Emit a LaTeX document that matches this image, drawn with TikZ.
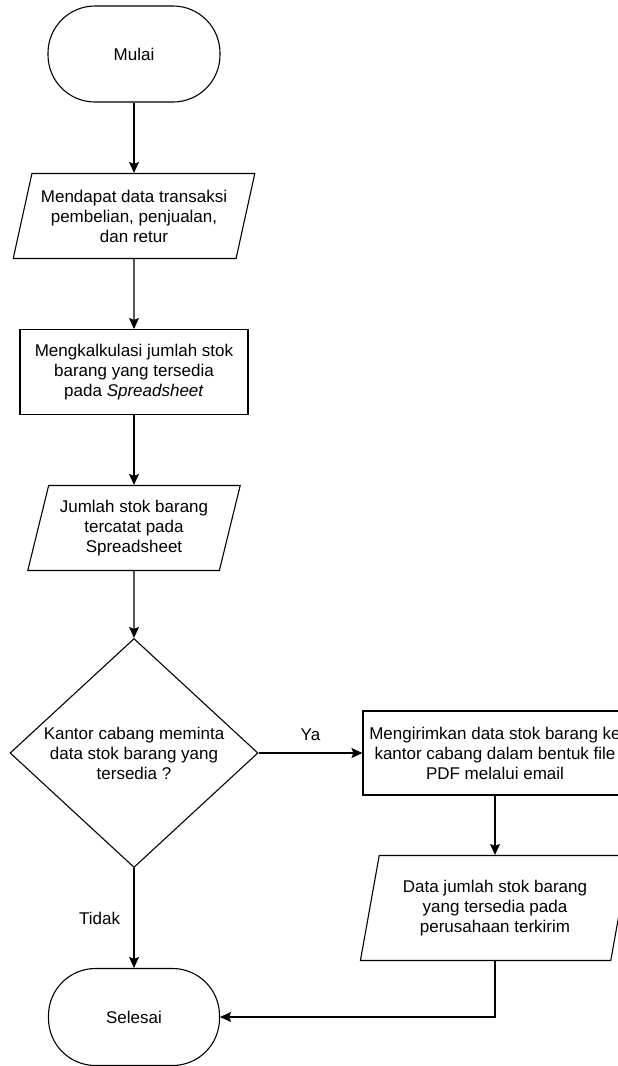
\documentclass[tikz,border=0pt]{standalone}
\usepackage{fontspec}
\setmainfont{Liberation Sans}
\usetikzlibrary{shapes.geometric,arrows.meta}

\begin{document}
\begin{tikzpicture}[x=1pt, y=-1pt, line width=1.1pt,
  font=\fontsize{17}{20}\selectfont,
  terminal/.style={draw, rectangle, rounded corners=47pt, minimum width=172pt, minimum height=96pt},
  data/.style={draw, trapezium, trapezium left angle=72, trapezium right angle=108,
    trapezium stretches=true, minimum height=85pt, inner sep=0pt, align=center},
  proses/.style={draw, rectangle, minimum height=85pt, inner sep=0pt, align=center},
  keputusan/.style={draw, diamond, aspect=1.08, minimum width=248pt, minimum height=229pt,
    inner sep=0pt, align=center},
  panah/.style={-{Stealth[length=11pt,width=10pt,inset=2pt]}}]
  % Frame of the page
  \useasboundingbox (0,0) rectangle (618,1066);
  \clip (0,0) rectangle (618,1066);

  % Main column
  \node[terminal] (mulai) at (134,54) {Mulai};
  \node[data, minimum width=242pt] (transaksi) at (134,216)
    {Mendapat data transaksi\\pembelian, penjualan,\\dan retur};
  \node[proses, minimum width=228pt] (hitung) at (134,372)
    {Mengkalkulasi jumlah stok\\barang yang tersedia\\pada \textit{Spreadsheet}};
  \node[data, minimum width=213pt] (tercatat) at (134,528)
    {Jumlah stok barang\\tercatat pada\\Spreadsheet};
  \node[keputusan] (diminta) at (134,753)
    {Kantor cabang meminta\\data stok barang yang\\tersedia ?};
  \node[terminal, minimum width=171pt, minimum height=97pt] (selesai) at (134,1017) {Selesai};

  % Right branch
  \node[proses, minimum width=264pt, minimum height=84pt] (kirim) at (495,753)
    {Mengirimkan data stok barang ke\\kantor cabang dalam bentuk file\\PDF melalui email};
  \node[data, minimum width=270pt, minimum height=105pt, trapezium left angle=75,
    trapezium right angle=105] (terkirim) at (495,908)
    {Data jumlah stok barang\\yang tersedia pada\\perusahaan terkirim};

  % Connectors
  \draw[panah] (mulai) -- (transaksi);
  \draw[panah] (transaksi) -- (hitung);
  \draw[panah] (hitung) -- (tercatat);
  \draw[panah] (tercatat) -- (diminta);
  \draw[panah] (diminta) -- node[above=8pt] {Ya} (kirim);
  \draw[panah] (diminta) -- node[left=10pt] {Tidak} (selesai);
  \draw[panah] (kirim) -- (terkirim);
  \draw[panah] (terkirim.south) |- (selesai.east);

\end{tikzpicture}
\end{document}
